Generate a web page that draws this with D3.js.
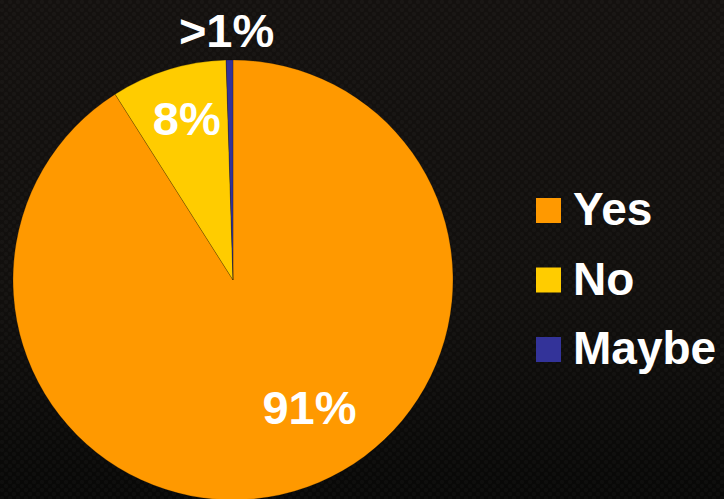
<!DOCTYPE html>
<html><head><meta charset="utf-8">
<script src="https://cdn.jsdelivr.net/npm/d3@7"></script>
<style>html,body{margin:0;padding:0;background:#0b0b0a;overflow:hidden}</style>
</head><body>
<script>
const categories = ["Yes", "No", "Maybe"];
const values = [91, 8.5, 0.5];
const labels = ["91%", "8%", ">1%"];
const colors = ["#FF9900", "#FFCC00", "#333399"];

const W = 724, H = 499;
const svg = d3.select("body").append("svg").attr("width", W).attr("height", H);
const defs = svg.append("defs");
const lg = defs.append("linearGradient").attr("id","bg").attr("x1","0").attr("y1","0").attr("x2","0").attr("y2","1");
lg.append("stop").attr("offset","0%").attr("stop-color","#14110f");
lg.append("stop").attr("offset","60%").attr("stop-color","#110f0d");
lg.append("stop").attr("offset","100%").attr("stop-color","#080807");
const pat = defs.append("pattern").attr("id","tex").attr("width",8).attr("height",8).attr("patternUnits","userSpaceOnUse");
pat.append("circle").attr("cx",2).attr("cy",2).attr("r",2).attr("fill","#ffffff").attr("opacity",0.025);
pat.append("circle").attr("cx",6).attr("cy",6).attr("r",2).attr("fill","#ffffff").attr("opacity",0.025);
svg.append("rect").attr("width",W).attr("height",H).attr("fill","url(#bg)");
svg.append("rect").attr("width",W).attr("height",H).attr("fill","url(#tex)");

const cx = 233, cy = 280, R = 220;
const pie = d3.pie().sort(null).value(d => d);
const arcs = pie(values);
const arc = d3.arc().innerRadius(0).outerRadius(R);
const g = svg.append("g").attr("transform", `translate(${cx},${cy})`);
g.selectAll("path").data(arcs).join("path")
  .attr("d", arc)
  .attr("fill", (d,i) => colors[i])
  .attr("stroke", "rgba(0,0,0,0.35)")
  .attr("stroke-width", 0.6);

// label placement: radius and angle shift per slice
const labelR = [148, 168, 250];
const angShift = [-0.26, 0.02, -0.01];
g.selectAll("text.lbl").data(arcs).join("text")
  .attr("class","lbl")
  .attr("x", (d,i) => { const a = (d.startAngle + d.endAngle)/2 + angShift[i]; return Math.sin(a)*labelR[i]; })
  .attr("y", (d,i) => { const a = (d.startAngle + d.endAngle)/2 + angShift[i]; return -Math.cos(a)*labelR[i]; })
  .attr("dy", "0.36em")
  .attr("text-anchor","middle")
  .attr("font-family","'Liberation Sans', Arial, sans-serif")
  .attr("font-weight","bold")
  .attr("font-size", 47)
  .attr("fill","#ffffff")
  .text((d,i) => labels[i]);

const y = d3.scalePoint().domain(categories).range([210, 349]);
const leg = svg.append("g");
const items = leg.selectAll("g").data(categories).join("g")
  .attr("transform", d => `translate(536,${y(d)})`);
items.append("rect").attr("x",0).attr("y",-12).attr("width",25).attr("height",25)
  .attr("fill", (d,i) => colors[i]);
items.append("text").attr("x",37).attr("y",15)
  .attr("font-family","'Liberation Sans', Arial, sans-serif")
  .attr("font-weight","bold").attr("font-size",46).attr("fill","#ffffff")
  .text(d => d);
</script>
</body></html>
